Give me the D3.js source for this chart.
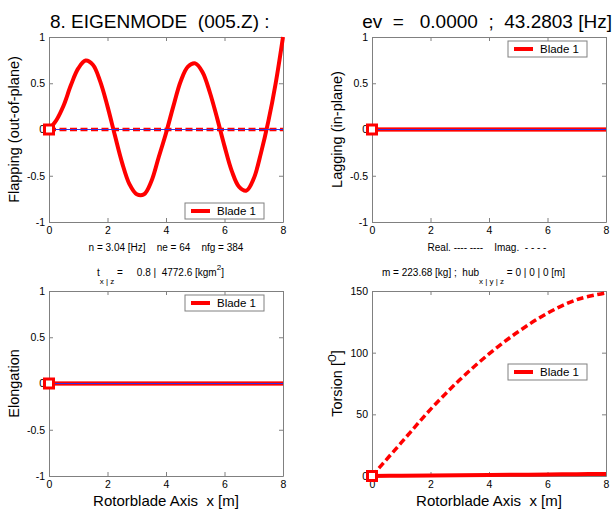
<!DOCTYPE html>
<html>
<head>
<meta charset="utf-8">
<script src="https://cdn.jsdelivr.net/npm/d3@7"></script>
<style>
  body { margin: 0; background: #fff; }
  text { font-family: "Liberation Sans", Arial, sans-serif; white-space: pre; }
</style>
</head>
<body>
<script>
// blade positions along the rotor blade axis [m]
const xFine = [0, 0.25, 0.5, 0.75, 1, 1.25, 1.5, 1.75, 2, 2.25, 2.5, 2.75, 3, 3.25, 3.5, 3.75,
               4, 4.25, 4.5, 4.75, 5, 5.25, 5.5, 5.75, 6, 6.25, 6.5, 6.75, 7, 7.25, 7.5, 7.75, 8];
const xCoarse = [0, 1, 2, 3, 4, 5, 6, 7, 8];
const xEnds = [0, 8];

// mode shape values
const flapReal = [0, 0.1, 0.26, 0.48, 0.66, 0.745, 0.7, 0.52, 0.25, -0.06, -0.36, -0.59, -0.7, -0.7, -0.56, -0.3,
                  -0.04, 0.25, 0.52, 0.68, 0.715, 0.62, 0.4, 0.12, -0.18, -0.45, -0.62, -0.66, -0.53, -0.25, 0.09, 0.5, 1.0];
const flapImag = [0, 0];
const lagReal = [0, 0];
const lagImag = [0, 0];
const elongReal = [0, 0];
const elongImag = [0, 0];
const torsReal = [0, 0.2, 0.4, 0.6, 0.8, 1.0, 1.2, 1.5, 1.7];
const torsImag = [0, 27, 54, 78, 99, 117, 132, 143, 148.5];

const xTicks = [0, 2, 4, 6, 8];
const unitTicks = [-1, -0.5, 0, 0.5, 1];
const torsTicks = [0, 50, 100, 150];
const legendLabel = "Blade 1";

const width = 614, height = 516;
const red = "#ff0000", gray = "#808080";

const svg = d3.select("body").append("svg")
    .attr("width", width)
    .attr("height", height);

const panels = [
    {left: 49, top: 37, yDomain: [-1, 1], yTicks: unitTicks, label: "Flapping (out-of-plane)", labelX: 19,
     real: [xFine, flapReal], imag: [xEnds, flapImag], legend: "bottom"},
    {left: 372, top: 37, yDomain: [-1, 1], yTicks: unitTicks, label: "Lagging (in-plane)", labelX: 342,
     real: [xEnds, lagReal], imag: [xEnds, lagImag], legend: "top"},
    {left: 49, top: 291, yDomain: [-1, 1], yTicks: unitTicks, label: "Elongation", labelX: 19,
     real: [xEnds, elongReal], imag: [xEnds, elongImag], legend: "top"},
    {left: 372, top: 291, yDomain: [0, 150], yTicks: torsTicks, label: "Torsion", labelX: 342,
     real: [xCoarse, torsReal], imag: [xCoarse, torsImag], legend: "middle"}
];
const pw = 234, ph = 185;

panels.forEach(function(p, i) {
    let g = svg.append("g").attr("transform", `translate(${p.left},${p.top})`);
    let x = d3.scaleLinear().domain([0, 8]).range([0, pw]);
    let y = d3.scaleLinear().domain(p.yDomain).range([ph, 0]);

    // axes with inward ticks on all four sides
    let fmt = d => String(d);
    g.append("g").attr("transform", `translate(0,${ph})`)
        .call(d3.axisBottom(x).tickValues(xTicks).tickFormat(fmt).tickSizeInner(-4).tickSizeOuter(0).tickPadding(5));
    g.append("g")
        .call(d3.axisLeft(y).tickValues(p.yTicks).tickFormat(fmt).tickSizeInner(-4).tickSizeOuter(0).tickPadding(4));
    g.append("g")
        .call(d3.axisTop(x).tickValues(xTicks).tickFormat("").tickSizeInner(-4).tickSizeOuter(0));
    g.append("g").attr("transform", `translate(${pw},0)`)
        .call(d3.axisRight(y).tickValues(p.yTicks).tickFormat("").tickSizeInner(-4).tickSizeOuter(0));
    g.selectAll(".domain, .tick line").attr("stroke", gray);
    g.selectAll(".tick text").attr("font-size", 10.5).attr("fill", "#000")
        .attr("font-family", "Liberation Sans, Arial, sans-serif");

    let line = d3.line().x(d => x(d[0])).y(d => y(d[1])).curve(d3.curveCatmullRom);
    let pts = s => s[0].map((v, k) => [v, s[1][k]]);

    let clip = "clip" + i;
    g.append("clipPath").attr("id", clip).append("rect")
        .attr("x", -2).attr("y", -2).attr("width", pw + 4).attr("height", ph + 4);
    let plot = g.append("g").attr("clip-path", `url(#${clip})`);

    let realStyle = {w: 4, dash: null}, imagStyle = {w: 3.5, dash: "7,3.5"};
    if (i === 3) {
        // torsion: imaginary part dashed above real
        plot.append("path").datum(pts(p.real)).attr("d", line)
            .attr("fill", "none").attr("stroke", red).attr("stroke-width", 4);
        plot.append("path").datum(pts(p.imag)).attr("d", line)
            .attr("fill", "none").attr("stroke", red).attr("stroke-width", imagStyle.w)
            .attr("stroke-dasharray", imagStyle.dash);
    } else {
        plot.append("path").datum(pts(p.imag)).attr("d", line)
            .attr("fill", "none").attr("stroke", red).attr("stroke-width", imagStyle.w)
            .attr("stroke-dasharray", i === 0 ? imagStyle.dash : null);
        plot.append("path").datum(pts(p.real)).attr("d", line)
            .attr("fill", "none").attr("stroke", red).attr("stroke-width", realStyle.w);
        // undeformed reference axis
        plot.append("line").attr("x1", x(0)).attr("x2", x(8)).attr("y1", y(0)).attr("y2", y(0))
            .attr("stroke", "#3030e0").attr("stroke-width", 1);
    }

    // root marker
    g.append("rect").attr("x", x(0) - 4.5).attr("y", y(0) - 4.5)
        .attr("width", 9).attr("height", 9)
        .attr("fill", "#fff").attr("stroke", red).attr("stroke-width", 3);

    // legend
    let lw = 79, lh = 16;
    let ly = p.legend === "top" ? 4 : p.legend === "bottom" ? ph - 3 - lh : 73;
    let lg = g.append("g").attr("transform", `translate(${pw - 19 - lw},${ly})`);
    lg.append("rect").attr("width", lw).attr("height", lh)
        .attr("fill", "#fff").attr("stroke", gray).attr("stroke-width", 1);
    lg.append("line").attr("x1", 6).attr("x2", 25).attr("y1", lh / 2).attr("y2", lh / 2)
        .attr("stroke", red).attr("stroke-width", 4);
    lg.append("text").attr("x", 32).attr("y", lh / 2 + 4).attr("font-size", 11.5).text(legendLabel);

    // y label
    let yl = svg.append("text")
        .attr("transform", `translate(${p.labelX},${p.top + ph / 2}) rotate(-90)`)
        .attr("text-anchor", "middle").attr("font-size", 14.5);
    yl.append("tspan").text(p.label);
    if (i === 3) {
        yl.append("tspan").text(" [");
        yl.append("tspan").attr("dy", -6).attr("font-size", 10).text("O");
        yl.append("tspan").attr("dy", 6).text("]");
    }
});

// title
svg.append("text").attr("x", 50).attr("y", 28).attr("font-size", 19)
    .text("8. EIGENMODE  (005.Z) :");
svg.append("text").attr("x", 612).attr("y", 28).attr("font-size", 19).attr("text-anchor", "end")
    .text("ev  =   0.0000  ;  43.2803 [Hz]");

// info lines
svg.append("text").attr("x", 166).attr("y", 251).attr("font-size", 10).attr("text-anchor", "middle")
    .text("n = 3.04 [Hz]    ne = 64    nfg = 384");
svg.append("text").attr("x", 487).attr("y", 251).attr("font-size", 10).attr("text-anchor", "middle")
    .text("Real. ---- ----    Imag.  - - - -");

let t1 = svg.append("text").attr("x", 97).attr("y", 276).attr("font-size", 10);
t1.append("tspan").text("t");
t1.append("tspan").attr("dy", 8).attr("font-size", 8).text("x | z");
t1.append("tspan").attr("dy", -8).text(" =     0.8 |  4772.6 [kgm");
t1.append("tspan").attr("dy", -6).attr("font-size", 8).text("2");
t1.append("tspan").attr("dy", 6).text("]");

let t2 = svg.append("text").attr("x", 382).attr("y", 276).attr("font-size", 10);
t2.append("tspan").text("m = 223.68 [kg] ;  hub");
t2.append("tspan").attr("dy", 8).attr("font-size", 8).text("x | y | z");
t2.append("tspan").attr("dy", -8).text(" = 0 | 0 | 0 [m]");

// x labels
[166, 489].forEach(function(cx) {
    svg.append("text").attr("x", cx).attr("y", 506).attr("font-size", 15).attr("text-anchor", "middle")
        .text("Rotorblade Axis  x [m]");
});
</script>
</body>
</html>
